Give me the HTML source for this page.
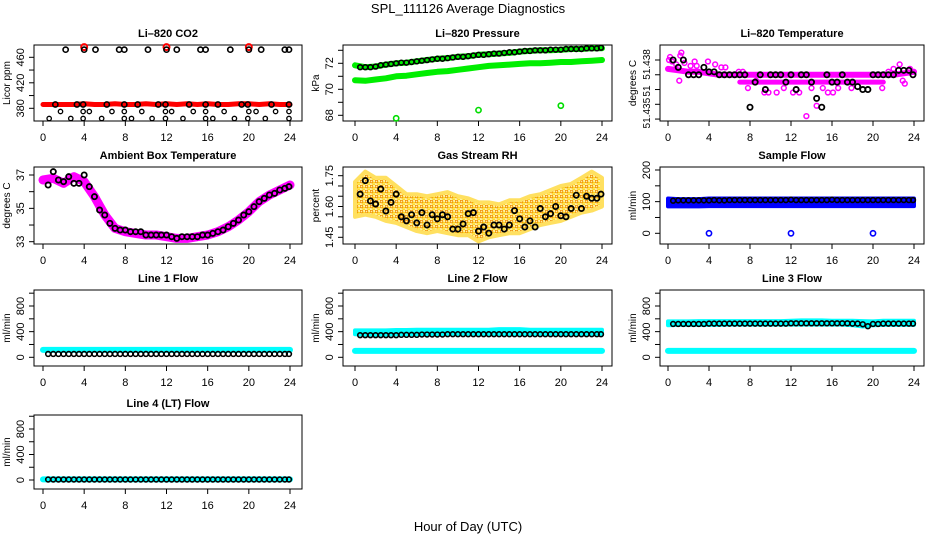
<!DOCTYPE html>
<html><head><meta charset="utf-8">
<style>
html,body{margin:0;padding:0;background:#fff;}
svg{display:block;font-family:"Liberation Sans",Arial,sans-serif;}
</style></head>
<body>
<svg id="fig" width="936" height="540" viewBox="0 0 936 540" xmlns="http://www.w3.org/2000/svg">
<defs>
<pattern id="rhpat" width="5" height="5" patternUnits="userSpaceOnUse">
<rect width="5" height="5" fill="#fff2a0"/>
<circle cx="1.5" cy="1.5" r="1.3" fill="none" stroke="#f08c00" stroke-width="0.9"/>
<circle cx="4" cy="3.8" r="1.2" fill="none" stroke="#ffd000" stroke-width="0.9"/>
</pattern>
</defs>
<text x="468" y="13" text-anchor="middle" font-size="13">SPL_111126  Average Diagnostics</text>
<text x="468" y="531" text-anchor="middle" font-size="13">Hour of Day (UTC)</text>
</svg>
<script>
// ---------- data ----------
const HOURS = [0,1,2,3,4,5,6,7,8,9,10,11,12,13,14,15,16,17,18,19,20,21,22,23,24];
const HALF = [0.5,1,1.5,2,2.5,3,3.5,4,4.5,5,5.5,6,6.5,7,7.5,8,8.5,9,9.5,10,10.5,11,11.5,12,12.5,13,13.5,14,14.5,15,15.5,16,16.5,17,17.5,18,18.5,19,19.5,20,20.5,21,21.5,22,22.5,23,23.5,23.9];
const X_TICKS = [0,4,8,12,16,20,24];

// Li-820 CO2
const co2Red = [386,386,386,386,387,386,386,387,386,386,387,386,387,386,387,386,387,386,386,387,387,386,387,386,386];
const co2RedOutH = [4,12,20];
const co2RedOutV = [476,476,476];
const co2TopH = [2.2,4,5.1,7.4,7.9,10.2,12,13,15.3,15.8,18.2,20,21.2,23.5,23.9];
const co2TopV = [472,472,472,472,472,472,472,472,472,472,472,472,472,472,472];
const co2MidH = [1.2,3.3,3.9,6.2,7.9,9.2,11.2,11.9,14.2,15.8,17,19.3,19.9,22.2,23.9];
const co2MidV = [386,386,386,386,386,386,386,386,386,386,386,386,386,386,386];
const co2LowH = [1.7,3.9,4.5,6.7,7.9,9.6,11.9,12.5,14.6,15.8,17.6,20,20.7,22.6,23.9];
const co2LowV = [375,375,375,375,375,375,375,375,375,375,375,375,375,375,375];
const co2BotH = [0.6,2.7,3.9,5.7,7.9,8.6,10.6,11.9,13.6,15.8,16.5,18.6,19.9,21.6,23.9];
const co2BotV = [364,364,364,364,364,364,364,364,364,364,364,364,364,364,364];

// Li-820 Pressure
const presBlack = [71.7,71.7,71.7,71.75,71.85,71.9,71.95,72.0,72.05,72.05,72.1,72.15,72.2,72.25,72.3,72.35,72.35,72.4,72.45,72.5,72.5,72.55,72.6,72.65,72.65,72.7,72.75,72.75,72.8,72.85,72.85,72.9,72.95,72.95,73.0,73.0,73.0,73.05,73.05,73.05,73.1,73.1,73.1,73.1,73.15,73.15,73.15,73.2];
const presGreenHi = [71.85,71.7,71.75,71.9,72.0,72.05,72.15,72.25,72.35,72.4,72.5,72.55,72.65,72.7,72.75,72.8,72.9,72.95,73.0,73.0,73.05,73.1,73.1,73.15,73.15];
const presGreenLo = [70.7,70.65,70.75,70.85,71.0,71.05,71.15,71.25,71.35,71.4,71.5,71.6,71.7,71.8,71.85,71.9,71.95,72.0,72.0,72.05,72.1,72.1,72.15,72.2,72.25];
const presOutH = [4,12,20];
const presOutV = [67.77,68.4,68.74];

// Li-820 Temperature
const tempBlack = [51.438,51.4375,51.438,51.437,51.437,51.437,51.4375,51.4372,51.4372,51.437,51.437,51.437,51.437,51.437,51.437,51.4348,51.4365,51.437,51.436,51.437,51.437,51.437,51.4365,51.437,51.436,51.437,51.437,51.4365,51.4354,51.4348,51.437,51.4365,51.4365,51.437,51.4365,51.4365,51.4362,51.436,51.436,51.437,51.437,51.437,51.437,51.437,51.4373,51.4373,51.4373,51.437];
const tempMagMain = [51.4374,51.4373,51.4372,51.4372,51.4371,51.437,51.437,51.437,51.437,51.437,51.437,51.437,51.437,51.437,51.437,51.437,51.437,51.437,51.437,51.437,51.437,51.437,51.437,51.4371,51.4372];
const tempMag2H = [7,8,9,10,11,12,13,14,15,16,17,18,19,20,21];
const tempMag2V = [51.4365,51.4365,51.4365,51.4365,51.4365,51.4365,51.4365,51.4365,51.4365,51.4365,51.4365,51.4365,51.4365,51.4365,51.4365];
const tempScatH = [0.1,0.2,0.4,0.8,1.2,1.3,1.1,1.6,2.2,2.6,2.8,3.9,4.6,5.2,5.6,6.9,7.3,7.8,8.6,9.4,9.8,10.6,11.3,12.2,12.8,13.5,14.0,14.5,15.1,15.6,16.1,16.6,17.9,20.9,21.5,22.0,22.6,22.9,23.1,23.6,23.9];
const tempScatV = [51.438,51.4382,51.4379,51.4377,51.4383,51.4385,51.4366,51.4378,51.4376,51.4379,51.4376,51.4379,51.4377,51.4375,51.4375,51.4372,51.4372,51.4361,51.4366,51.4358,51.4358,51.4358,51.4361,51.4358,51.4358,51.4342,51.4361,51.4349,51.4361,51.4358,51.4358,51.4361,51.4361,51.4361,51.4372,51.4374,51.4377,51.4366,51.4364,51.4374,51.4372];

// Ambient Box Temperature
const ambBlack = [36.4,37.2,36.7,36.6,36.9,36.5,36.5,37.0,36.3,35.7,34.9,34.6,34.1,33.8,33.7,33.7,33.6,33.6,33.6,33.4,33.4,33.4,33.4,33.4,33.3,33.2,33.3,33.3,33.3,33.3,33.4,33.4,33.5,33.6,33.7,33.9,34.1,34.3,34.6,34.8,35.1,35.4,35.6,35.8,35.9,36.1,36.2,36.3];
const ambMag = [36.7,36.8,36.5,36.9,36.6,35.7,34.6,33.8,33.6,33.5,33.4,33.4,33.3,33.2,33.2,33.3,33.4,33.6,33.9,34.3,34.8,35.4,35.8,36.1,36.4];

// Gas Stream RH
const rhBlack = [1.66,1.726,1.627,1.612,1.685,1.578,1.62,1.66,1.55,1.53,1.56,1.52,1.57,1.51,1.56,1.54,1.56,1.55,1.49,1.49,1.515,1.565,1.57,1.48,1.50,1.47,1.51,1.51,1.49,1.51,1.58,1.54,1.50,1.53,1.50,1.59,1.55,1.565,1.60,1.555,1.55,1.59,1.655,1.59,1.65,1.64,1.64,1.66];
const rhHi = [1.72,1.77,1.74,1.74,1.70,1.66,1.66,1.65,1.66,1.67,1.65,1.64,1.62,1.62,1.61,1.63,1.63,1.65,1.66,1.68,1.70,1.71,1.74,1.77,1.74];
const rhLo = [1.55,1.56,1.55,1.53,1.52,1.50,1.48,1.47,1.48,1.47,1.46,1.46,1.43,1.45,1.46,1.47,1.47,1.49,1.51,1.52,1.53,1.55,1.57,1.58,1.60];

// Sample Flow
const sampBlack = [103,104,104,104,104,104,104,104,105,104,104,105, 105,105,105,105,105,105,105,105,105,105,105,106, 105,105,105,105,105,105,105,106,105,105,105,105, 105,105,105,105,105,105,105,105,105,105,105,105];
const sampHi = [110,108,108,108,110,110,110,110,110,110,110,110,110,110,110,110,110,110,110,110,110,110,110,110,110];
const sampLo = [85,85,85,85,86,86,86,86,86,86,86,86,86,86,86,86,86,86,86,86,86,86,86,86,86];
const sampOutH = [4,12,20];
const sampOutV = [0,0,0];

// Line flows
const l1Black = [52,52,52,52,52,52,52,52,52,52,52,52, 52,52,52,52,52,52,52,52,52,52,52,52, 52,52,52,52,52,52,52,52,52,52,52,52, 52,52,52,52,52,52,52,52,52,52,52,52];
const l1Cyan = [115,115,115,115,115,115,115,115,115,115,115,115,115,115,115,115,115,115,115,115,115,115,115,115,115];
const l2Black = [345,345,345,345,345,345,345,345,350,350,350,350, 355,355,355,355,355,360,360,360,360,360,360,360, 360,360,360,360,360,360,360,360,360,360,360,360, 360,360,360,360,360,360,360,360,360,360,360,360];
const l2CyanHi = [420,420,420,420,425,425,430,430,430,430,430,430,430,430,440,440,440,430,430,430,430,430,430,430,430];
const l2CyanLo = [360,355,355,355,360,360,360,360,360,365,365,365,365,365,365,365,365,365,365,365,365,365,365,365,365];
const l2Low = [100,100,100,100,100,100,100,100,100,100,100,100,100,100,100,100,100,100,100,100,100,100,100,100,100];
const l3Black = [520,520,520,520,520,520,520,525,525,525,525,525, 525,525,525,525,525,525,525,525,525,525,525,530, 530,530,530,530,530,530,530,530,530,530,530,525, 525,515,485,520,520,525,525,525,525,525,525,525];
const l3CyanHi = [560,560,560,565,565,565,565,565,565,565,565,565,570,575,575,575,570,570,570,565,560,570,570,570,570];
const l3CyanLo = [500,505,505,505,505,505,510,510,510,510,510,510,510,510,510,510,510,510,500,480,500,505,505,505,505];
const l3Low = [100,100,100,100,100,100,100,100,100,100,100,100,100,100,100,100,100,100,100,100,100,100,100,100,100];
const l4Black = [8,8,8,8,8,8,8,8,8,8,8,8, 8,8,8,8,8,8,8,8,8,8,8,8, 8,8,8,8,8,8,8,8,8,8,8,8, 8,8,8,8,8,8,8,8,8,8,8,8];
const l4Cyan = [10,10,10,10,10,10,10,10,10,10,10,10,10,10,10,10,10,10,10,10,10,10,10,10,10];

// ---------- drawing ----------
const NS = "http://www.w3.org/2000/svg";
const fig = document.getElementById('fig');
function mk(tag, attrs, parent){
  const e = document.createElementNS(NS, tag);
  for (const k in attrs) e.setAttribute(k, attrs[k]);
  parent.appendChild(e);
  return e;
}

function makePanel(key, title, l, r, t, b, x0, x24, v0, p0, v1, p1, yticks, ylabels, ylab, lfs){
  const g = mk('g', {}, fig);
  
  
  const sx = h => x0 + (x24 - x0) * h / 24;
  const sy = v => p0 + (p1 - p0) * (v - v0) / (v1 - v0);
  const tt = mk('text', {x:(l+r)/2, y:t-8, 'text-anchor':'middle', 'font-size':11, 'font-weight':'bold'}, g);
  tt.textContent = title;
  
  
  const box = mk('rect', {x:l, y:t, width:r-l, height:b-t, fill:'none', stroke:'#000', 'stroke-width':1}, g);
  
  
  const xa = mk('g', {}, g);
  
  
  X_TICKS.forEach(h => {
    mk('line', {x1:sx(h), x2:sx(h), y1:b, y2:b+5, stroke:'#000'}, xa);
    const tx = mk('text', {x:sx(h), y:b+20, 'text-anchor':'middle', 'font-size':11}, xa);
    tx.textContent = String(h);
  });
  const ya = mk('g', {}, g);
  
  
  yticks.forEach(v => mk('line', {x1:l-5, x2:l, y1:sy(v), y2:sy(v), stroke:'#000'}, ya));
  ylabels.forEach(lb => {
    const yy = sy(lb[0]);
    const tx = mk('text', {x:l-10, y:yy, 'text-anchor':'middle', 'font-size':lfs||11, transform:`rotate(-90 ${l-10} ${yy})`}, ya);
    tx.textContent = lb[1];
  });
  const yl = mk('text', {x:l-24, y:(t+b)/2, 'text-anchor':'middle', 'font-size':10, transform:`rotate(-90 ${l-24} ${(t+b)/2})`}, g);
  yl.textContent = ylab;
  
  
  const data = mk('g', {}, g);
  
  
  return {g:data, sx, sy};
}

function band(P, name, hours, vals, color, w){
  const pts = hours.map((h,i) => P.sx(h).toFixed(1) + ',' + P.sy(vals[i]).toFixed(1)).join(' ');
  const pl = mk('polyline', {points:pts, fill:'none', stroke:color, 'stroke-width':w, 'stroke-linejoin':'round', 'stroke-linecap':'round'}, P.g);
  
  
}
function area(P, name, hours, hi, lo, fill, edge){
  const up = hours.map((h,i) => P.sx(h).toFixed(1) + ',' + P.sy(hi[i]).toFixed(1));
  const dn = hours.map((h,i) => P.sx(h).toFixed(1) + ',' + P.sy(lo[i]).toFixed(1)).reverse();
  const pg = mk('polygon', {points:up.concat(dn).join(' '), fill:fill, stroke:edge, 'stroke-width':4, 'stroke-linejoin':'round'}, P.g);
  
  
}
function points(P, name, hours, vals, color, r, sw){
  const gg = mk('g', {}, P.g);
  
  
  hours.forEach((h,i) => {
    const c = mk('circle', {cx:P.sx(h), cy:P.sy(vals[i]), r:r||2.6, fill:'none', stroke:color, 'stroke-width':sw||1.6}, gg);
    
    
  });
}

const C1 = [34,302,43,290], C2 = [343,612,355,602], C3 = [660,924,668,914];
const R1 = [45,121], R2 = [167,244], R3 = [290,366], R4 = [415,489];
const flowTicks = [0,200,400,600,800,1000];
const flowLabels = [[0,'0'],[400,'400'],[800,'800']];

let P = makePanel('co2', 'Li\u2013820 CO2', C1[0],C1[1],R1[0],R1[1],C1[2],C1[3], 380,108.3,460,57.3,
  [380,400,420,440,460], [[380,'380'],[420,'420'],[460,'460']], 'Licor ppm');
band(P,'co2-red-band',HOURS,co2Red,'#ff0000',5);
points(P,'co2-red-outliers',co2RedOutH,co2RedOutV,'#ff0000',3,2);
points(P,'co2-black-top',co2TopH,co2TopV,'#000');
points(P,'co2-black-mid',co2MidH,co2MidV,'#000');
points(P,'co2-black-low',co2LowH,co2LowV,'#000',2.2,1.3);
points(P,'co2-black-bottom',co2BotH,co2BotV,'#000',2.2,1.3);

P = makePanel('pressure', 'Li\u2013820 Pressure', C2[0],C2[1],R1[0],R1[1],C2[2],C2[3], 72,63.3,68,115.3,
  [68,69,70,71,72,73], [[68,'68'],[70,'70'],[72,'72']], 'kPa');
band(P,'pressure-green-upper',HOURS,presGreenHi,'#00ee00',6);
band(P,'pressure-green-lower',HOURS,presGreenLo,'#00ee00',6);
points(P,'pressure-black',HALF,presBlack,'#000',2.4,1.6);
points(P,'pressure-green-outliers',presOutH,presOutV,'#00dd00',2.6,1.6);

P = makePanel('li820-temp', 'Li\u2013820 Temperature', C3[0],C3[1],R1[0],R1[1],C3[2],C3[3], 51.438,60,51.435,104.3,
  [51.438,51.437,51.436,51.435,51.434], [[51.4377,'51.438'],[51.4359,'51'],[51.4344,'51.435']], 'degrees C', 10);
band(P,'li820-temp-magenta-main',HOURS,tempMagMain,'#ff00ff',6);
band(P,'li820-temp-magenta-second',tempMag2H,tempMag2V,'#ff00ff',5);
points(P,'li820-temp-magenta-scatter',tempScatH,tempScatV,'#ff00ff',2.4,1.5);
points(P,'li820-temp-black',HALF,tempBlack,'#000',2.6,1.8);

P = makePanel('ambient', 'Ambient Box Temperature', C1[0],C1[1],R2[0],R2[1],C1[2],C1[3], 37,175,33,241.7,
  [33,34,35,36,37], [[33,'33'],[35,'35'],[37,'37']], 'degrees C');
band(P,'ambient-magenta',HOURS,ambMag,'#ff00ff',9);
points(P,'ambient-black',HALF,ambBlack,'#000',2.6,1.8);

P = makePanel('rh', 'Gas Stream RH', C2[0],C2[1],R2[0],R2[1],C2[2],C2[3], 1.75,175.7,1.45,237.3,
  [1.45,1.5,1.55,1.6,1.65,1.7,1.75], [[1.45,'1.45'],[1.6,'1.60'],[1.75,'1.75']], 'percent');
area(P,'rh-orange-cloud',HOURS,rhHi,rhLo,'url(#rhpat)','#ffe060');
points(P,'rh-black',HALF,rhBlack,'#000',2.6,1.8);

P = makePanel('sample-flow', 'Sample Flow', C3[0],C3[1],R2[0],R2[1],C3[2],C3[3], 200,170,0,233.3,
  [0,50,100,150,200], [[0,'0'],[100,'100'],[200,'200']], 'ml/min');
area(P,'sample-blue-band',HOURS,sampHi,sampLo,'#0000ff','#0000ff');
points(P,'sample-black',HALF,sampBlack,'#000',2.4,1.6);
points(P,'sample-blue-outliers',sampOutH,sampOutV,'#0000ff',2.6,1.6);

P = makePanel('line1', 'Line 1 Flow', C1[0],C1[1],R3[0],R3[1],C1[2],C1[3], 0,357.3,800,306, flowTicks, flowLabels, 'ml/min');
band(P,'line1-cyan',HOURS,l1Cyan,'#00ffff',6);
points(P,'line1-black',HALF,l1Black,'#000',2.4,1.6);

P = makePanel('line2', 'Line 2 Flow', C2[0],C2[1],R3[0],R3[1],C2[2],C2[3], 0,357.3,800,306, flowTicks, flowLabels, 'ml/min');
area(P,'line2-cyan-upper',HOURS,l2CyanHi,l2CyanLo,'#00ffff','#00ffff');
band(P,'line2-cyan-lower',HOURS,l2Low,'#00ffff',6);
points(P,'line2-black',HALF,l2Black,'#000',2.4,1.6);

P = makePanel('line3', 'Line 3 Flow', C3[0],C3[1],R3[0],R3[1],C3[2],C3[3], 0,357.3,800,306, flowTicks, flowLabels, 'ml/min');
area(P,'line3-cyan-upper',HOURS,l3CyanHi,l3CyanLo,'#00ffff','#00ffff');
band(P,'line3-cyan-lower',HOURS,l3Low,'#00ffff',6);
points(P,'line3-black',HALF,l3Black,'#000',2.4,1.6);

P = makePanel('line4', 'Line 4 (LT) Flow', C1[0],C1[1],R4[0],R4[1],C1[2],C1[3], 0,480,800,429, flowTicks, flowLabels, 'ml/min');
band(P,'line4-cyan',HOURS,l4Cyan,'#00ffff',6);
points(P,'line4-black',HALF,l4Black,'#000',2.4,1.6);
</script>
</body></html>
